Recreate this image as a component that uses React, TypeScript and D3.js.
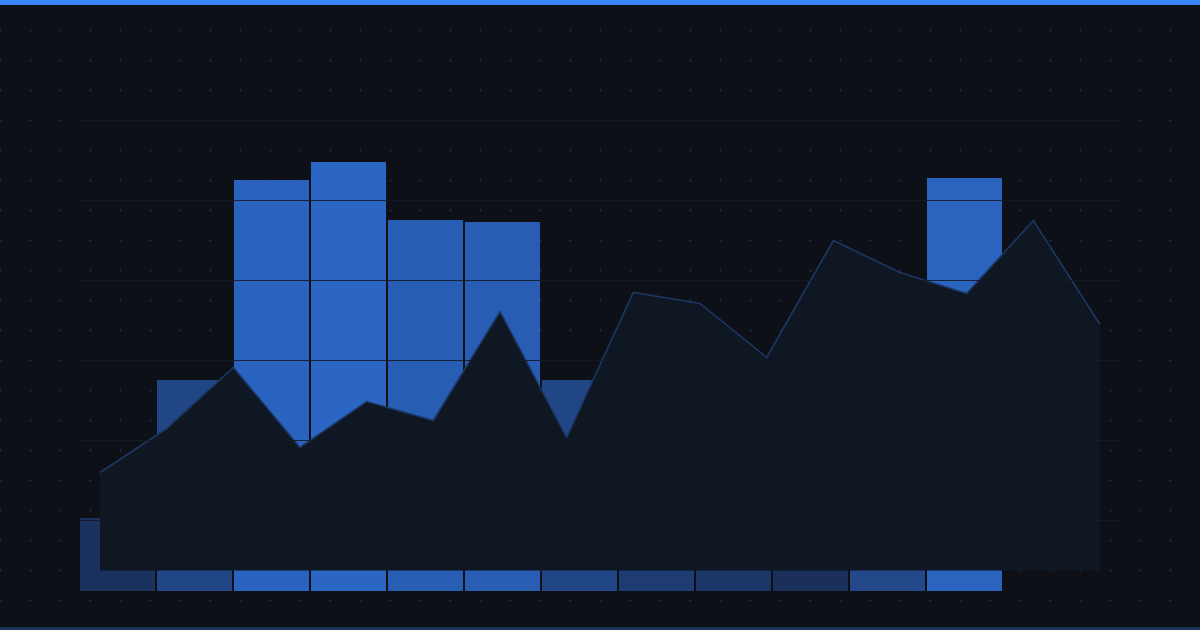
import { useEffect, useRef } from 'react';
import * as d3 from 'd3';

// bar series (12 slots)
const barLabels = ['Jan', 'Feb', 'Mar', 'Apr', 'May', 'Jun', 'Jul', 'Aug', 'Sep', 'Oct', 'Nov', 'Dec'];
const barValues = [73, 211, 411, 429, 371, 369, 211, 140, 100, 55, 225, 413];

// area series (16 points)
const areaLabels = ['P1', 'P2', 'P3', 'P4', 'P5', 'P6', 'P7', 'P8', 'P9', 'P10', 'P11', 'P12', 'P13', 'P14', 'P15', 'P16'];
const areaValues = [98, 142, 203, 123, 169, 150, 259, 133, 278, 267, 213, 330, 298, 277, 350, 246];

// horizontal grid values (area scale)
const gridTicks = [50, 130, 210, 290, 370, 450];

export default function App() {
  const svgRef = useRef<SVGSVGElement>(null);

  useEffect(() => {
    if (!svgRef.current) return;
    document.body.style.margin = '0';

    const width = 1200;
    const height = 630;

    d3.select(svgRef.current).selectAll('*').remove();

    const svg = d3.select(svgRef.current)
      .attr('width', width)
      .attr('height', height);

    svg.append('rect')
      .attr('width', width)
      .attr('height', height)
      .attr('fill', '#0d1017');

    // cross pattern
    const cols = d3.range(0, width + 1, 30);
    const rows = d3.range(30, 601, 30);
    const crosses = svg.append('g').attr('stroke', '#1a2540').attr('stroke-width', 1);
    rows.forEach(cy => {
      cols.forEach(cx => {
        crosses.append('path')
          .attr('d', `M${cx - 1},${cy + 0.5}H${cx + 2}M${cx + 0.5},${cy - 1}V${cy + 2}`);
      });
    });

    const x = d3.scaleBand()
      .domain(barLabels)
      .range([80, 1002])
      .paddingInner(2 / 77)
      .paddingOuter(0);

    const yBar = d3.scaleLinear()
      .domain([0, 500])
      .range([591, 91]);

    const color = d3.scaleLinear<string>()
      .domain([d3.min(barValues) as number, d3.max(barValues) as number])
      .range(['#1a2f5a', '#2b66c4']);

    svg.append('g')
      .selectAll('rect')
      .data(barValues)
      .enter()
      .append('rect')
      .attr('x', (_, i) => x(barLabels[i]) as number)
      .attr('y', d => yBar(d))
      .attr('width', x.bandwidth())
      .attr('height', d => yBar(0) - yBar(d))
      .attr('fill', d => color(d));

    const xa = d3.scalePoint()
      .domain(areaLabels)
      .range([100, 1100]);

    const ya = d3.scaleLinear()
      .domain([0, 450])
      .range([570.5, 120.5]);

    const area = d3.area<number>()
      .x((_, i) => xa(areaLabels[i]) as number)
      .y0(ya(0))
      .y1(d => ya(d));

    const line = d3.line<number>()
      .x((_, i) => xa(areaLabels[i]) as number)
      .y(d => ya(d));

    svg.append('path')
      .datum(areaValues)
      .attr('d', area)
      .attr('fill', '#0f1723');

    svg.append('path')
      .datum(areaValues)
      .attr('d', line)
      .attr('fill', 'none')
      .attr('stroke', '#1c3764')
      .attr('stroke-width', 1.6);

    // grid lines on top
    svg.append('g')
      .selectAll('line')
      .data(gridTicks)
      .enter()
      .append('line')
      .attr('x1', 80)
      .attr('x2', 1120)
      .attr('y1', d => ya(d))
      .attr('y2', d => ya(d))
      .attr('stroke', '#151b28')
      .attr('stroke-width', 1)
      .attr('opacity', 0.9);

    // top accent and bottom strip
    svg.append('rect')
      .attr('width', width)
      .attr('height', 5)
      .attr('fill', '#3a86ff');

    svg.append('rect')
      .attr('y', height - 3)
      .attr('width', width)
      .attr('height', 3)
      .attr('fill', '#1c3358');
  }, []);

  return <svg ref={svgRef} style={{ display: 'block', position: 'absolute', left: 0, top: 0 }}></svg>;
}
